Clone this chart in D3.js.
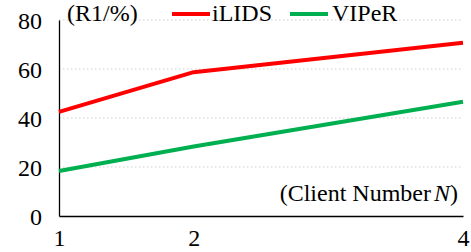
<!DOCTYPE html>
<html><head><meta charset="utf-8">
<script src="https://d3js.org/d3.v7.min.js"></script>
<style>body{margin:0;background:#fff}svg{display:block}</style>
</head><body>
<script>
const clients = [1, 2, 4];
const seriesNames = ["iLIDS", "VIPeR"];
const iLIDS = [42.5, 58.7, 70.7];
const VIPeR = [18.4, 28.4, 46.6];
const yTicks = [0, 20, 40, 60, 80];
const colors = ["#FF0000", "#00B050"];

const FONT = "'Liberation Serif', 'Times New Roman', Tinos, 'DejaVu Serif', serif";
const W = 471, H = 252;
const svg = d3.select("body").append("svg").attr("width", W).attr("height", H)
  .style("font-family", FONT);
const x = d3.scaleLinear().domain([1, 4]).range([59, 463]);
const y = d3.scaleLinear().domain([0, 80]).range([216, 20]);

// gridlines
svg.append("g").selectAll("line").data(yTicks.filter(d => d > 0)).join("line")
  .attr("x1", x(1)).attr("x2", x(4)).attr("y1", d => y(d)).attr("y2", d => y(d))
  .attr("stroke", "#d0d0d0").attr("stroke-width", 1).attr("stroke-dasharray", "1.5,2.5");

// y axis
const ya = svg.append("g").attr("transform", `translate(${x(1)},0)`)
  .call(d3.axisLeft(y).tickValues(yTicks).tickSize(0).tickPadding(17));
ya.attr("font-family", null).attr("font-size", null);
ya.select(".domain").attr("stroke", "#000").attr("stroke-width", 1.3);
ya.selectAll("text").style("font-family", FONT).style("font-size", "24px").attr("fill", "#000").attr("dy", "0.36em");

// x axis
const xa = svg.append("g").attr("transform", `translate(0,${y(0)})`)
  .call(d3.axisBottom(x).tickValues(clients).tickFormat(d3.format("d")).tickSize(0).tickPadding(13));
xa.attr("font-family", null).attr("font-size", null);
xa.select(".domain").attr("stroke", "#000").attr("stroke-width", 1.3);
xa.selectAll("text").style("font-family", FONT).style("font-size", "24px").attr("fill", "#000");

// lines
const line = d3.line().x((d, i) => x(clients[i])).y(d => y(d));
[iLIDS, VIPeR].forEach((s, k) => {
  svg.append("path").datum(s).attr("d", line).attr("fill", "none")
    .attr("stroke", colors[k]).attr("stroke-width", 4).attr("stroke-linejoin", "round");
});

// y unit label
svg.append("text").attr("x", 67).attr("y", 21).style("font-size", "24px").text("(R1/%)");

// legend
const leg = [{x0: 172, tx: 212}, {x0: 290, tx: 332}];
seriesNames.forEach((n, k) => {
  svg.append("line").attr("x1", leg[k].x0).attr("x2", leg[k].x0 + 38).attr("y1", 14).attr("y2", 14)
    .attr("stroke", colors[k]).attr("stroke-width", 4);
  svg.append("text").attr("x", leg[k].tx).attr("y", 21).style("font-size", "24px").text(n);
});

// x unit label
const xl = svg.append("text").attr("x", 458).attr("y", 201).style("font-size", "24px").attr("text-anchor", "end");
xl.append("tspan").text("(Client Number");
xl.append("tspan").attr("dx", 3).attr("font-style", "italic").text("N");
xl.append("tspan").text(")");
</script>
</body></html>
